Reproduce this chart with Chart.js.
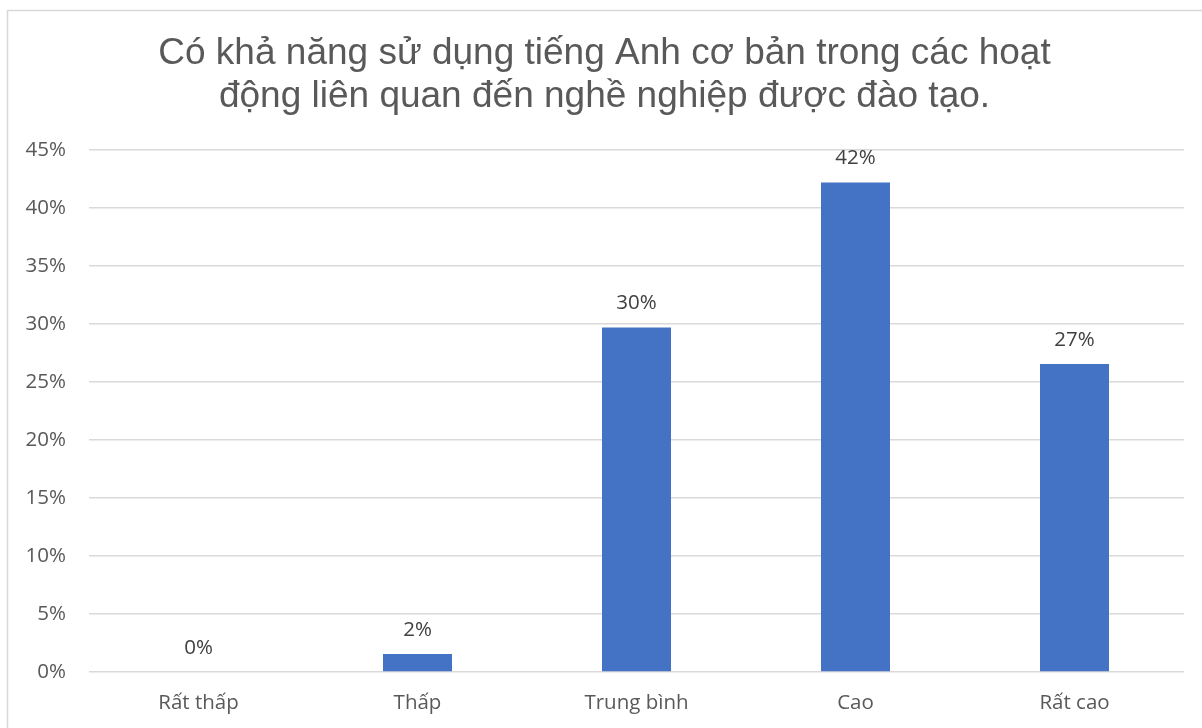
<!DOCTYPE html>
<html>
<head>
<meta charset="utf-8">
<script src="https://cdn.jsdelivr.net/npm/chart.js@4"></script>
<style>
  html, body { margin: 0; padding: 0; background: #fff; }
  #wrap { width: 1202px; height: 728px; position: relative; }
</style>
</head>
<body>
<div id="wrap"><canvas id="chart" width="1202" height="728"></canvas></div>
<script>
const titleLines = ['Có khả năng sử dụng tiếng Anh cơ bản trong các hoạt', 'động liên quan đến nghề nghiệp được đào tạo.'];
const categories = ['Rất thấp', 'Thấp', 'Trung bình', 'Cao', 'Rất cao'];
const values = [0, 1.55, 29.7, 42.2, 26.55];
const yMax = 45;
const yStep = 5;

// outer frame like the office export
const framePlugin = {
  id: 'frame',
  beforeDraw(chart) {
    const ctx = chart.ctx;
    ctx.save();
    ctx.fillStyle = '#ffffff';
    ctx.fillRect(0, 0, chart.width, chart.height);
    ctx.strokeStyle = '#d9d9d9';
    ctx.lineWidth = 1.5;
    ctx.strokeRect(7.5, 10.5, 1400, 1000);
    ctx.restore();
  }
};

// value labels above each bar
const valueLabels = {
  id: 'valueLabels',
  afterDatasetsDraw(chart) {
    const ctx = chart.ctx;
    const meta = chart.getDatasetMeta(0);
    ctx.save();
    ctx.font = '20.5px "Open Sans"';
    ctx.fillStyle = '#404040';
    ctx.textAlign = 'center';
    ctx.textBaseline = 'middle';
    meta.data.forEach((bar, i) => {
      ctx.fillText(Math.round(values[i]) + '%', bar.x, bar.y - 24);
    });
    ctx.restore();
  }
};

new Chart(document.getElementById('chart'), {
  type: 'bar',
  data: {
    labels: categories,
    datasets: [{
      data: values,
      backgroundColor: '#4472c4',
      borderWidth: 0,
      categoryPercentage: 1,
      barPercentage: 0.315
    }]
  },
  options: {
    responsive: false,
    animation: false,
    layout: { padding: { top: 0, left: 25, right: 18, bottom: 0 } },
    plugins: {
      legend: { display: false },
      tooltip: { enabled: false },
      title: {
        display: true,
        text: titleLines,
        color: '#595959',
        font: { family: '"Liberation Sans", Arial, sans-serif', size: 37, weight: 'normal', lineHeight: 1.15 },
        padding: { top: 33, bottom: 32 }
      }
    },
    scales: {
      x: {
        grid: { display: false, drawTicks: false },
        border: { display: false },
        ticks: { color: '#595959', font: { family: '"Open Sans"', size: 20.5 }, padding: 19, maxRotation: 0 },
        afterFit(scale) { scale.height = 56; }
      },
      y: {
        min: 0,
        max: yMax,
        grid: { color: '#d9d9d9', lineWidth: 1.5, drawTicks: false },
        border: { display: false },
        ticks: {
          stepSize: yStep,
          color: '#595959',
          font: { family: '"Open Sans"', size: 20.5 },
          padding: 23,
          callback: v => v + '%'
        },
        afterFit(scale) { scale.width = 64; }
      }
    }
  },
  plugins: [framePlugin, valueLabels]
});
</script>
</body>
</html>
